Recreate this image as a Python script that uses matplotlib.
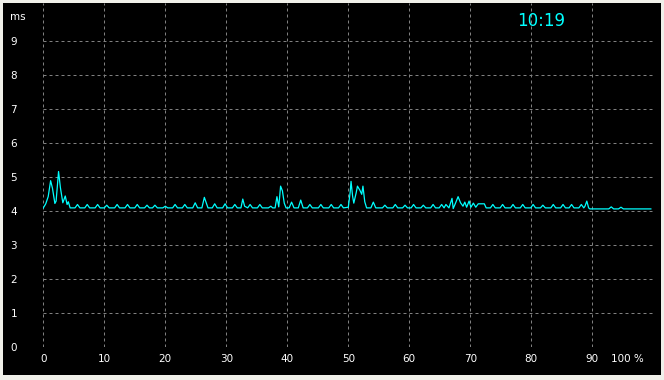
import matplotlib
matplotlib.use("Agg")
import matplotlib.pyplot as plt
from matplotlib.patches import Rectangle

BG = "#f0f0ea"; PANEL = "#000000"; GRID = "#808080"
LINE = "#00ffff"; TXT = "#ffffff"

# response time trace, vertices (x in %, y in ms)
pct = [0.0, 0.4, 0.8, 1.2, 1.5, 1.9, 2.1, 2.5, 2.8, 3.2, 3.6, 3.9, 4.1, 4.4,
       5.2, 5.6, 6.0, 6.8, 7.2, 7.6, 8.5, 8.9, 9.3, 10.0, 10.4, 10.8,
       11.7, 12.1, 12.5, 13.4, 13.8, 14.2, 15.0, 15.4, 15.8, 16.6, 17.0, 17.4,
       17.9, 18.3, 18.7, 19.6, 20.0, 20.4, 21.2, 21.6, 22.0, 22.8, 23.2, 23.6,
       24.5, 24.9, 25.3, 26.0, 26.4, 26.7, 27.0, 27.7, 28.1, 28.5, 29.4, 29.8,
       30.2, 31.0, 31.4, 31.8, 32.4, 32.7, 33.0, 33.5, 33.9, 34.3, 35.1, 35.5,
       35.9, 36.9, 37.3, 37.6, 38.0, 38.3, 38.6, 38.9, 39.2, 39.5, 39.8,
       40.3, 40.7, 41.1, 41.8, 42.2, 42.6, 43.3, 43.7, 44.1, 45.1, 45.5, 45.9,
       46.8, 47.2, 47.6, 48.4, 48.8, 49.2, 50.0, 50.3, 50.45, 50.7, 50.9, 51.3,
       51.5, 51.9, 52.2, 52.4, 52.7, 53.0, 53.7, 54.1, 54.5, 55.6, 56.0, 56.4,
       57.3, 57.7, 58.1, 58.9, 59.3, 59.7, 60.3, 60.7, 61.1, 61.9, 62.3, 62.7,
       63.5, 63.9, 64.3, 64.9, 65.3, 65.7, 66.0, 66.5, 67.0, 67.2, 67.6, 68.0,
       68.4, 68.8, 69.1, 69.4, 69.8, 70.1, 70.5, 70.9, 71.3, 72.3, 72.6,
       73.3, 73.7, 74.1, 74.9, 75.3, 75.7, 76.6, 77.0, 77.4, 78.2, 78.6, 79.0,
       79.9, 80.3, 80.7, 81.5, 81.9, 82.3, 83.2, 83.6, 84.0, 84.8, 85.2, 85.6,
       86.2, 86.6, 87.0, 87.8, 88.2, 88.6, 88.8, 89.1, 89.4, 89.6,
       92.7, 93.1, 93.5, 94.3, 94.7, 95.1, 99.6]
ms = [4.10, 4.22, 4.43, 4.90, 4.68, 4.23, 4.30, 5.17, 4.70, 4.25, 4.45, 4.20, 4.28, 4.10,
      4.10, 4.20, 4.10, 4.10, 4.20, 4.10, 4.10, 4.20, 4.10, 4.10, 4.18, 4.10,
      4.10, 4.20, 4.10, 4.10, 4.20, 4.10, 4.10, 4.20, 4.10, 4.10, 4.18, 4.10,
      4.10, 4.18, 4.10, 4.10, 4.15, 4.10, 4.10, 4.20, 4.10, 4.10, 4.20, 4.10,
      4.10, 4.25, 4.10, 4.10, 4.41, 4.25, 4.10, 4.10, 4.22, 4.10, 4.10, 4.22,
      4.10, 4.10, 4.20, 4.10, 4.10, 4.36, 4.15, 4.10, 4.20, 4.10, 4.10, 4.20,
      4.10, 4.10, 4.15, 4.10, 4.10, 4.43, 4.13, 4.74, 4.60, 4.24, 4.10,
      4.10, 4.27, 4.10, 4.10, 4.33, 4.10, 4.10, 4.20, 4.10, 4.10, 4.20, 4.10,
      4.10, 4.20, 4.10, 4.10, 4.20, 4.10, 4.12, 4.55, 4.88, 4.45, 4.24, 4.55,
      4.74, 4.62, 4.50, 4.74, 4.28, 4.10, 4.10, 4.27, 4.10, 4.10, 4.18, 4.10,
      4.10, 4.20, 4.10, 4.10, 4.18, 4.10, 4.10, 4.20, 4.10, 4.10, 4.18, 4.10,
      4.10, 4.20, 4.10, 4.10, 4.20, 4.10, 4.20, 4.10, 4.38, 4.08, 4.25, 4.43,
      4.25, 4.15, 4.27, 4.12, 4.30, 4.12, 4.24, 4.12, 4.22, 4.22, 4.10,
      4.10, 4.20, 4.10, 4.10, 4.20, 4.10, 4.10, 4.20, 4.10, 4.10, 4.20, 4.10,
      4.10, 4.20, 4.10, 4.10, 4.18, 4.10, 4.10, 4.20, 4.10, 4.10, 4.20, 4.10,
      4.10, 4.20, 4.10, 4.10, 4.20, 4.10, 4.15, 4.30, 4.10, 4.07,
      4.07, 4.13, 4.07, 4.07, 4.12, 4.07, 4.07]

x_ticks = list(range(0, 101, 10))
x_labels = ["0", "10", "20", "30", "40", "50", "60", "70", "80", "90", ""]
y_ticks = list(range(0, 10))
y_labels = [str(v) for v in y_ticks]
clock = "10:19"

W, H = 664, 380
fig = plt.figure(figsize=(W / 100, H / 100), dpi=100)
fig.patch.set_facecolor(BG)
# black panel inside the light frame, kept underneath the axes
fig.patches.append(Rectangle((3 / W, 5 / H), 658 / W, 372 / H,
                             transform=fig.transFigure, fc=PANEL, ec="none", zorder=-5))

ax = fig.add_axes([43.3 / W, 32.7 / H, 610 / W, 344.1 / H])
ax.set_facecolor("none")
ax.set_xlim(0, 100)
ax.set_ylim(0, 10.12)
for s in ax.spines.values():
    s.set_visible(False)

dash = (0, (3, 3))
for xv in x_ticks:
    ax.axvline(xv, color=GRID, lw=0.72, ls=dash, zorder=1)
for yv in y_ticks:
    ax.axhline(yv, color=GRID, lw=0.72, ls=dash, zorder=1)

ax.plot(pct, ms, color=LINE, lw=0.9, zorder=3)

font = dict(family="DejaVu Sans", size=7.5, color=TXT)
ax.set_xticks(x_ticks)
ax.set_xticklabels(x_labels, **font)
ax.set_yticks(y_ticks)
ax.set_yticklabels(y_labels, **font)
ax.tick_params(length=0)
ax.tick_params(axis="x", pad=5)
ax.tick_params(axis="y", pad=18.8)

ax.text(98.5, -0.34, "100 %", ha="right", va="center", **font)
fig.text(18 / W, 1 - 17 / H, "ms", ha="center", va="center", **font)
fig.text(541 / W, 1 - 20.5 / H, clock, ha="center", va="center",
         family="DejaVu Sans", size=12, color=LINE)

fig.savefig("out.png", dpi=100, facecolor=BG)
